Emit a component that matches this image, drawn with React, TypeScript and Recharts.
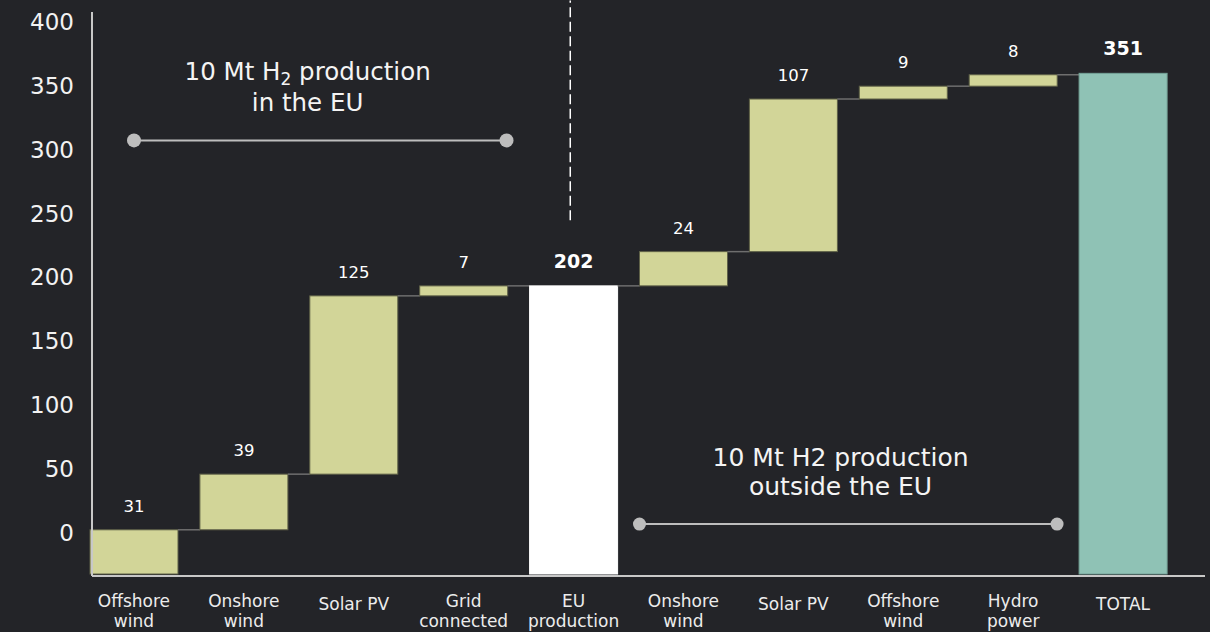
import React from 'react';
import {
  ComposedChart,
  Bar,
  XAxis,
  YAxis,
  ReferenceLine,
  ReferenceDot,
  LabelList,
} from 'recharts';

// ---------- data ----------
const categories = [
  'Offshore wind',
  'Onshore wind',
  'Solar PV',
  'Grid connected',
  'EU production',
  'Onshore wind',
  'Solar PV',
  'Offshore wind',
  'Hydro power',
  'TOTAL',
];
const tickLabels = [
  ['Offshore', 'wind'],
  ['Onshore', 'wind'],
  ['Solar PV'],
  ['Grid', 'connected'],
  ['EU', 'production'],
  ['Onshore', 'wind'],
  ['Solar PV'],
  ['Offshore', 'wind'],
  ['Hydro', 'power'],
  ['TOTAL'],
];
const values = [31, 39, 125, 7, 202, 24, 107, 9, 8, 351];
const kinds = ['step', 'step', 'step', 'step', 'subtotal', 'step', 'step', 'step', 'step', 'total'];
const yTicks = [0, 50, 100, 150, 200, 250, 300, 350, 400];

// annotation positions (x in category-index units, y in value units)
const bracketEU = { from: 0, to: 3.39, level: 304 };
const bracketOutside = { from: 4.6, to: 8.4, level: 35 };
const divider = { at: 3.97, from: 248, to: 402 };
const noteEU = { at: 1.58, level: 346 };
const noteOutside = { at: 6.43, level: 76 };

// ---------- build ----------
let running = 0;
const data = categories.map((name, i) => {
  const kind = kinds[i];
  const base = kind === 'step' ? running : 0;
  running = kind === 'step' ? running + values[i] : values[i];
  return { name, kind, value: values[i], range: [base, base + values[i]] };
});

const FONT = '"DejaVu Sans", Verdana, sans-serif';
const BG = '#232428';
const AXIS = '#c8c8c8';
const GREY = '#bdbdbd';
const GAP = 22;

function WaterfallShape(props: any) {
  const { x, y, width, height, index, payload } = props;
  const top = Math.min(y, y + height);
  const h = Math.abs(height);
  const kind = payload.kind;
  const fill = kind === 'total' ? '#8fc2b5' : kind === 'subtotal' ? '#ffffff' : '#d2d598';
  const stroke = kind === 'total' ? '#75a398' : kind === 'subtotal' ? '#ffffff' : '#5f6148';
  return (
    <g>
      <rect x={x} y={top} width={width} height={h} fill={fill} stroke={stroke} strokeWidth={1} />
      {index < values.length - 1 && (
        <line x1={x + width} x2={x + width + GAP} y1={top} y2={top} stroke="#6e6e6e" strokeWidth={1.5} />
      )}
    </g>
  );
}

function ValueLabel(props: any) {
  const { x, y, width, height, value, index } = props;
  const top = Math.min(y, y + height);
  const bold = kinds[index] !== 'step';
  return (
    <text
      x={x + width / 2}
      y={top - 18}
      textAnchor="middle"
      fill="#ffffff"
      fontSize={bold ? 19 : 16.5}
      fontWeight={bold ? 700 : 400}
      fontFamily={FONT}
    >
      {value}
    </text>
  );
}

function XTick(props: any) {
  const { x, y, payload } = props;
  const idx = props.index ?? payload.index;
  const lines = tickLabels[idx] || [String(payload.value)];
  if (lines.length === 1) {
    return (
      <text x={x} y={y + 34} textAnchor="middle" fill="#ececec" fontSize={17} fontFamily={FONT}>
        {lines[0]}
      </text>
    );
  }
  return (
    <text x={x} textAnchor="middle" fill="#ececec" fontSize={17} fontFamily={FONT}>
      <tspan x={x} y={y + 31}>{lines[0]}</tspan>
      <tspan x={x} y={y + 51}>{lines[1]}</tspan>
    </text>
  );
}

function NoteEU(props: any) {
  const { cx, cy } = props;
  return (
    <text x={cx} textAnchor="middle" fill="#f4f4f4" fontSize={24.5} fontFamily={FONT}>
      <tspan x={cx} y={cy}>
        10 Mt H
        <tspan fontSize={17} dy={5}>2</tspan>
        <tspan dy={-5}> production</tspan>
      </tspan>
      <tspan x={cx} y={cy + 30.7}>in the EU</tspan>
    </text>
  );
}

function NoteOutside(props: any) {
  const { cx, cy } = props;
  return (
    <text x={cx} textAnchor="middle" fill="#f4f4f4" fontSize={25} fontFamily={FONT}>
      <tspan x={cx} y={cy}>10 Mt H2 production</tspan>
      <tspan x={cx} y={cy + 29}>outside the EU</tspan>
    </text>
  );
}

const pad = { left: -13, right: 27 };
// numeric overlay axis: index 0 at first category centre, index 9 at last
const padN = { left: 42, right: 82 };

export default function App() {
  return (
    <div style={{ position: 'absolute', left: 0, top: 0, width: 1210, height: 632, background: BG, fontFamily: FONT }}>
      <ComposedChart width={1210} height={632} data={data} margin={{ top: 12, right: 5, bottom: 0, left: 0 }}>
        <XAxis
          xAxisId="c"
          dataKey="name"
          padding={pad}
          interval={0}
          height={56}
          tickLine={false}
          tickSize={0}
          tickMargin={0}
          axisLine={{ stroke: AXIS, strokeWidth: 2 }}
          tick={<XTick />}
        />
        <XAxis xAxisId="n" type="number" domain={[0, 9]} hide padding={padN} allowDataOverflow />
        <YAxis
          yAxisId="t"
          type="number"
          domain={[-34.1, 407.8]}
          ticks={yTicks}
          allowDataOverflow
          width={92}
          tickLine={false}
          tickSize={0}
          tickMargin={18}
          axisLine={{ stroke: AXIS, strokeWidth: 2 }}
          tick={{ fill: '#f2f2f2', fontSize: 23, fontFamily: FONT }}
        />
        <YAxis yAxisId="v" type="number" domain={[-1.4, 394]} hide allowDataOverflow />
        <Bar
          xAxisId="c"
          yAxisId="v"
          dataKey="range"
          barSize={88}
          shape={<WaterfallShape />}
          isAnimationActive={false}
        >
          <LabelList dataKey="value" content={<ValueLabel />} />
        </Bar>

        <ReferenceLine
          xAxisId="n"
          yAxisId="v"
          segment={[{ x: divider.at, y: divider.from }, { x: divider.at, y: divider.to }]}
          stroke="#ffffff"
          strokeWidth={1.5}
          strokeDasharray="10 4.5"
          ifOverflow="visible"
        />
        <ReferenceLine
          xAxisId="n"
          yAxisId="v"
          segment={[{ x: bracketEU.from, y: bracketEU.level }, { x: bracketEU.to, y: bracketEU.level }]}
          stroke={GREY}
          strokeWidth={2}
          ifOverflow="visible"
        />
        <ReferenceDot xAxisId="n" yAxisId="v" x={bracketEU.from} y={bracketEU.level} r={7} fill={GREY} stroke="none" ifOverflow="visible" />
        <ReferenceDot xAxisId="n" yAxisId="v" x={bracketEU.to} y={bracketEU.level} r={7} fill={GREY} stroke="none" ifOverflow="visible" />
        <ReferenceLine
          xAxisId="n"
          yAxisId="v"
          segment={[{ x: bracketOutside.from, y: bracketOutside.level }, { x: bracketOutside.to, y: bracketOutside.level }]}
          stroke={GREY}
          strokeWidth={2}
          ifOverflow="visible"
        />
        <ReferenceDot xAxisId="n" yAxisId="v" x={bracketOutside.from} y={bracketOutside.level} r={6.5} fill={GREY} stroke="none" ifOverflow="visible" />
        <ReferenceDot xAxisId="n" yAxisId="v" x={bracketOutside.to} y={bracketOutside.level} r={6.5} fill={GREY} stroke="none" ifOverflow="visible" />
        <ReferenceDot xAxisId="n" yAxisId="v" x={noteEU.at} y={noteEU.level} r={0} ifOverflow="visible" shape={<NoteEU />} />
        <ReferenceDot xAxisId="n" yAxisId="v" x={noteOutside.at} y={noteOutside.level} r={0} ifOverflow="visible" shape={<NoteOutside />} />
      </ComposedChart>
    </div>
  );
}
